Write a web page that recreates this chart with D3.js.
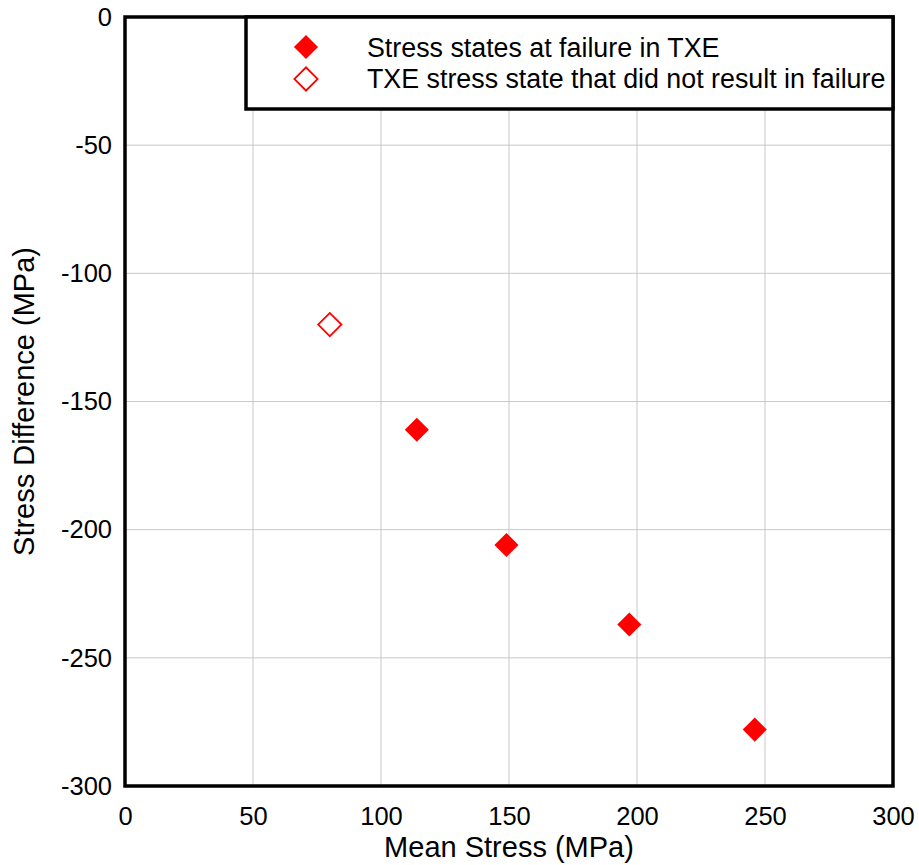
<!DOCTYPE html>
<html><head><meta charset="utf-8">
<script src="https://cdn.jsdelivr.net/npm/d3@7"></script>
<style>body{margin:0;background:#fff}svg{display:block;font-family:"Liberation Sans",Arial,sans-serif}</style>
</head><body>
<script>
const failMean = [114, 149, 197, 246];
const failDiff = [-161, -206, -237, -278];
const noFailMean = [80];
const noFailDiff = [-120];
const xTicks = [0, 50, 100, 150, 200, 250, 300];
const yTicks = [0, -50, -100, -150, -200, -250, -300];
const legendLabels = ["Stress states at failure in TXE", "TXE stress state that did not result in failure"];

const W = 919, H = 865;
const m = {l: 125, t: 17, r: 26, b: 79};
const svg = d3.select("body").append("svg").attr("width", W).attr("height", H);
const x = d3.scaleLinear().domain([0, 300]).range([m.l, W - m.r]);
const y = d3.scaleLinear().domain([0, -300]).range([m.t, H - m.b]);

// grid
svg.append("g").selectAll("line").data(xTicks).join("line")
  .attr("x1", d => x(d)).attr("x2", d => x(d)).attr("y1", y(0)).attr("y2", y(-300))
  .attr("stroke", "#c8c8c8").attr("stroke-width", 1);
svg.append("g").selectAll("line").data(yTicks).join("line")
  .attr("y1", d => y(d)).attr("y2", d => y(d)).attr("x1", x(0)).attr("x2", x(300))
  .attr("stroke", "#c8c8c8").attr("stroke-width", 1);

// axes labels via d3 axes (no lines)
const xa = svg.append("g").attr("transform", `translate(0,${y(-300)})`)
  .call(d3.axisBottom(x).tickValues(xTicks).tickSize(0).tickPadding(21).tickFormat(d3.format("d")));
const ya = svg.append("g").attr("transform", `translate(${x(0)},0)`)
  .call(d3.axisLeft(y).tickValues(yTicks).tickSize(0).tickPadding(13).tickFormat(d => d === 0 ? "0" : "-" + Math.abs(d)));
[xa, ya].forEach(a => {
  a.select(".domain").remove();
  a.selectAll("text").attr("font-size", 25.5).attr("fill", "#000").attr("font-family", "Liberation Sans, Arial, sans-serif");
});

// frame
svg.append("rect").attr("x", x(0)).attr("y", y(0)).attr("width", x(300) - x(0)).attr("height", y(-300) - y(0))
  .attr("fill", "none").attr("stroke", "#000").attr("stroke-width", 3.5);

// points
const diamond = d3.symbol().type(d3.symbolSquare).size(290);
svg.append("g").selectAll("path").data(failMean.map((v, i) => [v, failDiff[i]])).join("path")
  .attr("d", diamond)
  .attr("transform", d => `translate(${x(d[0])},${y(d[1])}) rotate(45)`)
  .attr("fill", "#ff0000");
const diamondO = d3.symbol().type(d3.symbolSquare).size(270);
svg.append("g").selectAll("path").data(noFailMean.map((v, i) => [v, noFailDiff[i]])).join("path")
  .attr("d", diamondO)
  .attr("transform", d => `translate(${x(d[0])},${y(d[1])}) rotate(45)`)
  .attr("fill", "#fff").attr("stroke", "#ff0000").attr("stroke-width", 1.8);

// legend
const lg = svg.append("g");
lg.append("rect").attr("x", 246).attr("y", y(0)).attr("width", x(300) - 246).attr("height", 92)
  .attr("fill", "#fff").attr("stroke", "#000").attr("stroke-width", 3.5);
lg.append("path").attr("d", d3.symbol().type(d3.symbolSquare).size(290)).attr("transform", "translate(306,47) rotate(45)").attr("fill", "#ff0000");
lg.append("path").attr("d", d3.symbol().type(d3.symbolSquare).size(270)).attr("transform", "translate(306,79) rotate(45)")
  .attr("fill", "#fff").attr("stroke", "#ff0000").attr("stroke-width", 1.8);
lg.selectAll("text").data(legendLabels).join("text")
  .attr("x", 367).attr("y", (d, i) => 57 + i * 31).attr("font-size", 26.8).attr("fill", "#000").text(d => d);

// axis titles
svg.append("text").attr("x", (x(0) + x(300)) / 2).attr("y", 857).attr("text-anchor", "middle")
  .attr("font-size", 29).text("Mean Stress (MPa)");
svg.append("text").attr("transform", `translate(34,${(y(0) + y(-300)) / 2}) rotate(-90)`).attr("text-anchor", "middle")
  .attr("font-size", 29).text("Stress Difference (MPa)");
</script>
</body></html>
